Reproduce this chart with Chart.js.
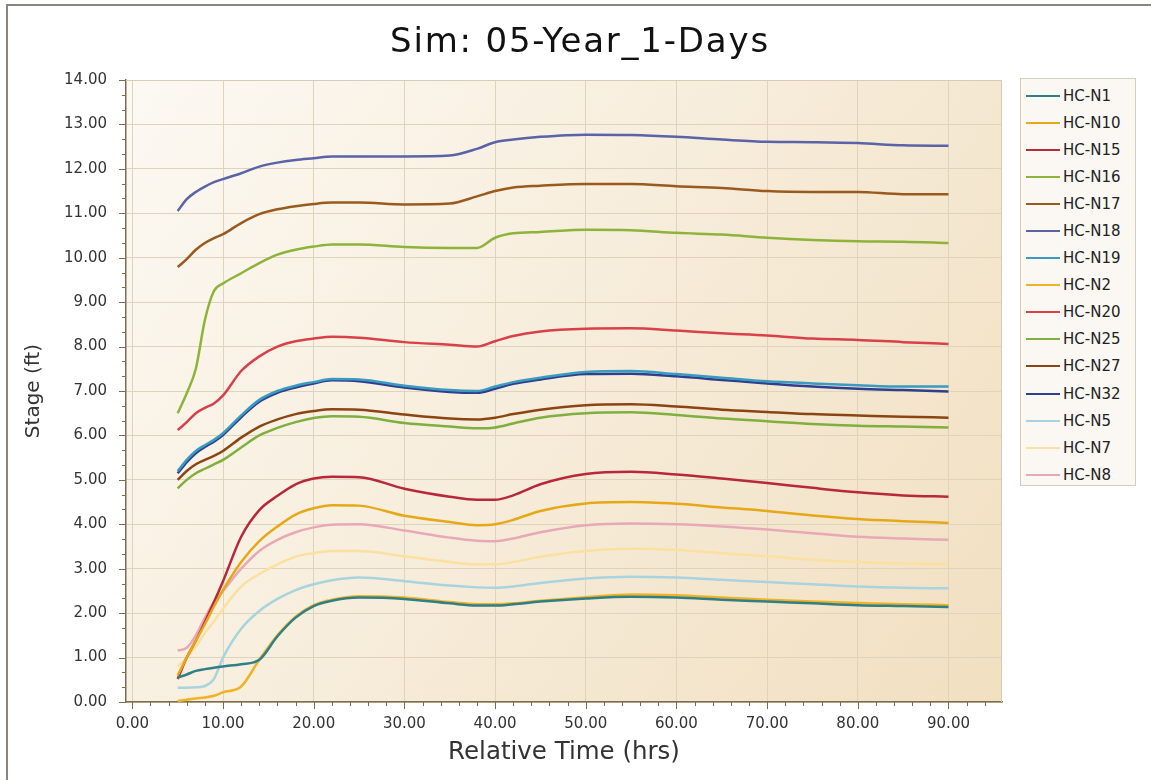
<!DOCTYPE html>
<html>
<head>
<meta charset="utf-8">
<script src="https://cdn.jsdelivr.net/npm/chart.js@4.4.1/dist/chart.umd.min.js"></script>
<style>
  html, body { margin: 0; padding: 0; background: #fff; }
  #wrap { position: relative; width: 1151px; height: 780px; overflow: hidden; background: #fff; }
  #frame { position: absolute; left: 6px; top: 4px; width: 1200px; height: 800px; border-left: 2px solid #8a847c; border-top: 2px solid #8a847c; }
  #chart { position: absolute; left: 0; top: 0; }
  #title { position: absolute; left: 0; top: 19px; width: 1160px; text-align: center;
           font: 34px "DejaVu Sans", sans-serif; line-height: 42px; letter-spacing: 1.8px; color: #111; }
  #legend { position: absolute; left: 1020px; top: 78px; width: 116px; height: 408px; box-sizing: border-box;
            border: 1px solid #d6cdbd; background: #fbf8f3; padding-top: 3px;
            font: 15px "DejaVu Sans", sans-serif; color: #222; }
  .item { height: 27.1px; display: flex; align-items: center; }
  .swatch { width: 34px; height: 2px; margin-left: 5px; margin-right: 3px; }
</style>
</head>
<body>
<div id="wrap">
  <div id="frame"></div>
  <canvas id="chart" width="1151" height="780"></canvas>
  <div id="title">Sim: 05-Year_1-Days</div>
  <div id="legend"></div>
</div>
<script>
// x positions (hrs) shared by every series
const hours = [5, 6, 7, 8, 9, 10, 12, 14, 16, 18, 20, 22, 25, 30, 35, 38, 40, 42, 45, 50, 55, 60, 65, 70, 75, 80, 85, 90];

const xTicks = [0, 10, 20, 30, 40, 50, 60, 70, 80, 90];
const yTicks = [0, 1, 2, 3, 4, 5, 6, 7, 8, 9, 10, 11, 12, 13, 14];

const seriesNames = ["HC-N1", "HC-N10", "HC-N15", "HC-N16", "HC-N17", "HC-N18", "HC-N19", "HC-N2",
  "HC-N20", "HC-N25", "HC-N27", "HC-N32", "HC-N5", "HC-N7", "HC-N8"];

const seriesColors = ["#2f7f86", "#e6a817", "#b8283a", "#8db33a", "#9a5a1e", "#5a62a8", "#3a9abf", "#f0b323",
  "#d8404a", "#7faf3f", "#8b4513", "#2e3f8f", "#a8d4e0", "#fbe0a0", "#e8a8b8"];

const hcN1  = [0.55, 0.62, 0.70, 0.74, 0.77, 0.80, 0.85, 0.95, 1.48, 1.90, 2.16, 2.28, 2.35, 2.32, 2.22, 2.17, 2.17, 2.20, 2.26, 2.33, 2.37, 2.35, 2.30, 2.26, 2.22, 2.18, 2.16, 2.14];
const hcN10 = [0.60, 1.00, 1.38, 1.75, 2.15, 2.52, 3.15, 3.62, 3.95, 4.22, 4.36, 4.43, 4.42, 4.19, 4.05, 3.98, 4.00, 4.10, 4.30, 4.47, 4.50, 4.46, 4.38, 4.30, 4.20, 4.12, 4.07, 4.03];
const hcN15 = [0.52, 1.00, 1.38, 1.80, 2.25, 2.72, 3.72, 4.32, 4.64, 4.90, 5.03, 5.07, 5.06, 4.80, 4.62, 4.55, 4.55, 4.65, 4.90, 5.13, 5.18, 5.12, 5.03, 4.93, 4.82, 4.72, 4.65, 4.62];
const hcN16 = [6.50, 6.95, 7.50, 8.60, 9.25, 9.42, 9.65, 9.88, 10.07, 10.18, 10.25, 10.30, 10.30, 10.24, 10.22, 10.22, 10.45, 10.55, 10.58, 10.63, 10.62, 10.56, 10.52, 10.45, 10.40, 10.37, 10.36, 10.33];
const hcN17 = [9.79, 9.97, 10.18, 10.33, 10.44, 10.53, 10.78, 10.98, 11.09, 11.16, 11.21, 11.24, 11.24, 11.20, 11.22, 11.38, 11.50, 11.58, 11.62, 11.66, 11.66, 11.61, 11.57, 11.50, 11.48, 11.48, 11.43, 11.43];
const hcN18 = [11.05, 11.32, 11.48, 11.60, 11.70, 11.77, 11.90, 12.05, 12.14, 12.20, 12.24, 12.28, 12.28, 12.28, 12.30, 12.45, 12.60, 12.66, 12.72, 12.77, 12.76, 12.72, 12.66, 12.61, 12.60, 12.58, 12.53, 12.52];
const hcN19 = [5.20, 5.45, 5.65, 5.78, 5.90, 6.05, 6.45, 6.80, 7.00, 7.12, 7.20, 7.27, 7.26, 7.12, 7.02, 7.00, 7.10, 7.20, 7.30, 7.43, 7.45, 7.38, 7.30, 7.22, 7.17, 7.13, 7.10, 7.10];
const hcN2  = [0.02, 0.05, 0.08, 0.10, 0.14, 0.22, 0.35, 0.95, 1.50, 1.92, 2.18, 2.30, 2.38, 2.35, 2.25, 2.20, 2.20, 2.22, 2.28, 2.36, 2.42, 2.40, 2.35, 2.30, 2.26, 2.23, 2.20, 2.18];
const hcN20 = [6.12, 6.30, 6.50, 6.62, 6.72, 6.90, 7.45, 7.78, 8.00, 8.12, 8.18, 8.22, 8.20, 8.10, 8.04, 8.00, 8.12, 8.24, 8.34, 8.40, 8.41, 8.36, 8.30, 8.25, 8.18, 8.15, 8.10, 8.06];
const hcN25 = [4.81, 5.00, 5.15, 5.25, 5.35, 5.45, 5.73, 6.00, 6.17, 6.30, 6.39, 6.43, 6.42, 6.28, 6.20, 6.16, 6.18, 6.27, 6.40, 6.50, 6.52, 6.46, 6.38, 6.32, 6.26, 6.22, 6.20, 6.18];
const hcN27 = [5.00, 5.20, 5.35, 5.45, 5.54, 5.65, 5.95, 6.20, 6.36, 6.48, 6.55, 6.59, 6.58, 6.47, 6.38, 6.36, 6.40, 6.48, 6.58, 6.68, 6.70, 6.65, 6.58, 6.53, 6.48, 6.45, 6.42, 6.40];
const hcN32 = [5.15, 5.40, 5.60, 5.74, 5.86, 6.01, 6.41, 6.76, 6.96, 7.08, 7.17, 7.24, 7.22, 7.08, 6.98, 6.96, 7.05, 7.16, 7.26, 7.38, 7.39, 7.33, 7.25, 7.17, 7.10, 7.05, 7.02, 6.99];
const hcN5  = [0.32, 0.32, 0.33, 0.36, 0.52, 1.00, 1.65, 2.05, 2.32, 2.52, 2.65, 2.74, 2.80, 2.72, 2.62, 2.58, 2.57, 2.60, 2.68, 2.78, 2.82, 2.80, 2.75, 2.70, 2.65, 2.60, 2.57, 2.56];
const hcN7  = [0.80, 1.00, 1.25, 1.55, 1.82, 2.10, 2.60, 2.88, 3.10, 3.27, 3.35, 3.40, 3.40, 3.28, 3.15, 3.10, 3.10, 3.15, 3.27, 3.40, 3.45, 3.42, 3.35, 3.28, 3.20, 3.15, 3.12, 3.10];
const hcN8  = [1.16, 1.22, 1.50, 1.90, 2.25, 2.50, 3.00, 3.40, 3.65, 3.82, 3.93, 3.99, 4.00, 3.86, 3.70, 3.63, 3.62, 3.68, 3.82, 3.98, 4.02, 4.00, 3.95, 3.88, 3.80, 3.72, 3.68, 3.65];

const seriesValues = [hcN1, hcN10, hcN15, hcN16, hcN17, hcN18, hcN19, hcN2, hcN20, hcN25, hcN27, hcN32, hcN5, hcN7, hcN8];

const AXIS_COLOR = "#7d6d4f";
const GRID_COLOR = "#e0d3bb";
const FONT = "'DejaVu Sans', sans-serif";

const datasets = seriesNames.map((name, i) => ({
  label: name,
  data: hours.map((h, j) => ({ x: h, y: seriesValues[i][j] })),
  borderColor: seriesColors[i],
  borderWidth: 2.5,
  pointRadius: 0,
  cubicInterpolationMode: "monotone",
  fill: false,
}));

// plot background, top/right frame and the major/minor tick marks
const plotFrame = {
  id: "plotFrame",
  beforeDraw(chart) {
    const { ctx, chartArea: a } = chart;
    const g = ctx.createLinearGradient(a.left, a.top, a.right, a.bottom);
    g.addColorStop(0, "#fcf9f3");
    g.addColorStop(1, "#f1dfc0");
    ctx.save();
    ctx.fillStyle = g;
    ctx.fillRect(a.left, a.top, a.right - a.left, a.bottom - a.top);
    ctx.restore();
  },
  afterDraw(chart) {
    const { ctx, chartArea: a, scales } = chart;
    ctx.save();
    ctx.strokeStyle = "#d8ccb6";
    ctx.lineWidth = 1;
    ctx.beginPath();
    ctx.moveTo(a.left, a.top + 0.5);
    ctx.lineTo(a.right - 0.5, a.top + 0.5);
    ctx.lineTo(a.right - 0.5, a.bottom);
    ctx.stroke();

    ctx.strokeStyle = AXIS_COLOR;
    ctx.lineWidth = 1;
    ctx.beginPath();
    for (let v = 0; v <= 94; v += 2) {
      const px = Math.round(scales.x.getPixelForValue(v)) + 0.5;
      const len = v % 10 === 0 ? 7 : 4;
      ctx.moveTo(px, a.bottom);
      ctx.lineTo(px, a.bottom + len);
    }
    for (let k = 0; k <= 42; k++) {
      const py = Math.round(scales.y.getPixelForValue(k / 3)) + 0.5;
      const len = k % 3 === 0 ? 7 : 4;
      ctx.moveTo(a.left - len, py);
      ctx.lineTo(a.left, py);
    }
    ctx.stroke();
    ctx.restore();
  },
};

const chart = new Chart(document.getElementById("chart"), {
  type: "line",
  data: { datasets },
  plugins: [plotFrame],
  options: {
    responsive: false,
    animation: false,
    layout: { padding: { left: 0, right: 149, top: 80, bottom: 0 } },
    plugins: {
      legend: { display: false },
      tooltip: { enabled: false },
      title: { display: false },
    },
    scales: {
      x: {
        type: "linear",
        min: -0.7,
        max: 95.9,
        afterBuildTicks: (s) => { s.ticks = xTicks.map((v) => ({ value: v })); },
        afterFit: (s) => { s.height = 78; },
        ticks: { color: "#333", font: { family: FONT, size: 15 }, padding: 5,
                 callback: (v) => Number(v).toFixed(2), maxRotation: 0 },
        grid: { color: GRID_COLOR, lineWidth: 1, tickLength: 8, tickColor: "transparent" },
        border: { display: true, color: AXIS_COLOR, width: 1.5 },
        title: { display: true, text: "Relative Time (hrs)", color: "#333",
                 font: { family: FONT, size: 24.5 }, padding: { top: 13, bottom: 13 } },
      },
      y: {
        type: "linear",
        min: 0,
        max: 14,
        afterBuildTicks: (s) => { s.ticks = yTicks.map((v) => ({ value: v })); },
        afterFit: (s) => { s.width = 126; },
        ticks: { color: "#333", font: { family: FONT, size: 15 }, padding: 11,
                 callback: (v) => Number(v).toFixed(2) },
        grid: { color: GRID_COLOR, lineWidth: 1, tickLength: 8, tickColor: "transparent" },
        border: { display: true, color: AXIS_COLOR, width: 1.5 },
        title: { display: true, text: "Stage (ft)", color: "#333",
                 font: { family: FONT, size: 20 }, padding: { top: 22, bottom: 22 } },
      },
    },
  },
});

// legend box on the right, built from the same names and colours
const legendBox = document.getElementById("legend");
seriesNames.forEach((name, i) => {
  const item = document.createElement("div");
  item.className = "item";
  const sw = document.createElement("span");
  sw.className = "swatch";
  sw.style.background = seriesColors[i];
  const label = document.createElement("span");
  label.textContent = name;
  item.appendChild(sw);
  item.appendChild(label);
  legendBox.appendChild(item);
});
</script>
</body>
</html>
